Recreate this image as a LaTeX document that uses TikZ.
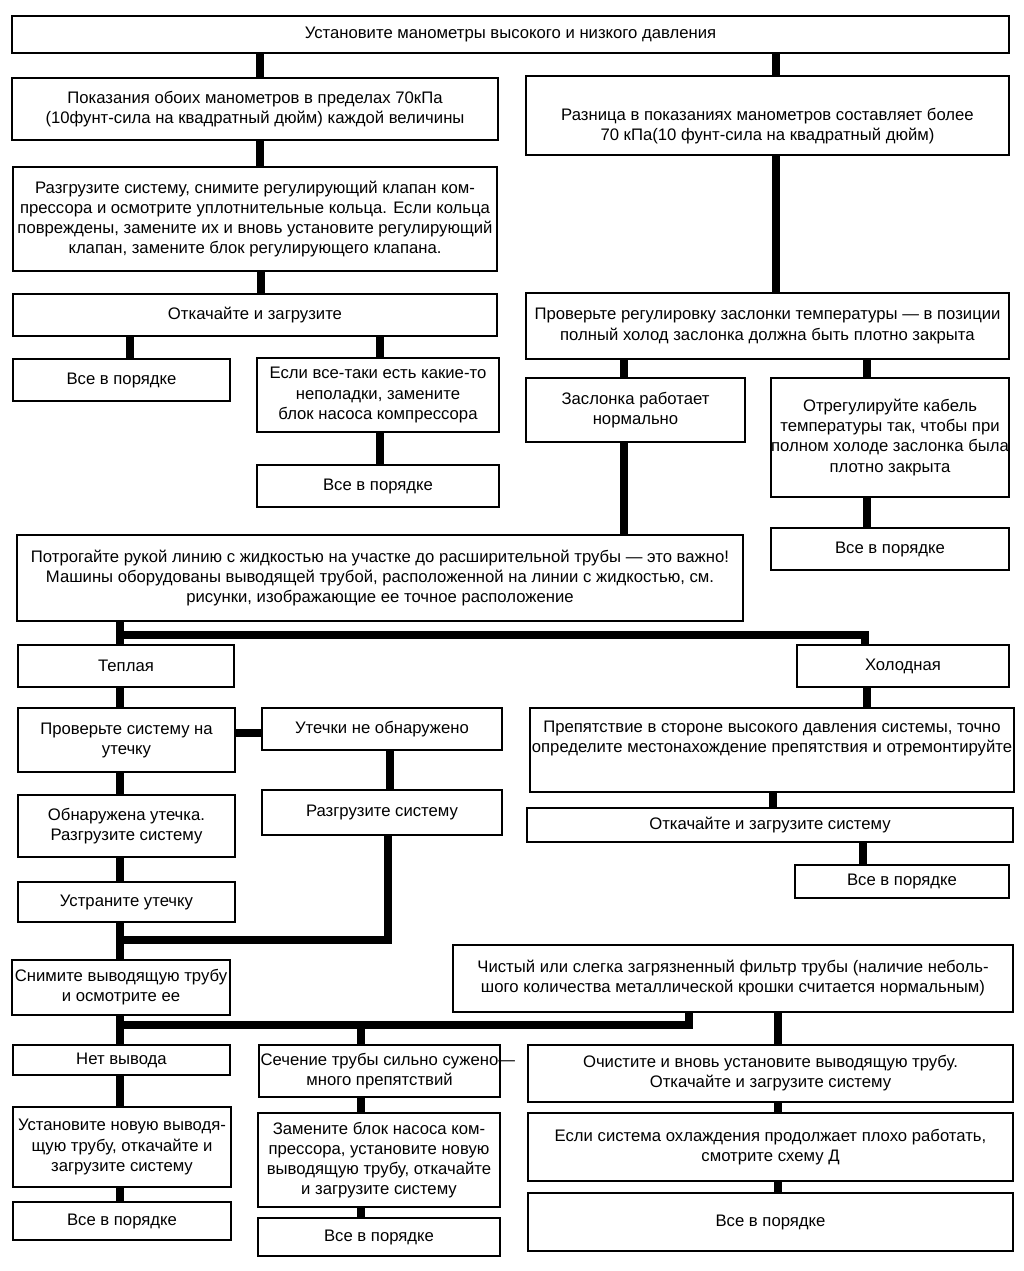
\documentclass[tikz,border=0pt]{standalone}
\usepackage{fontspec}
\setmainfont{Liberation Sans}
\newcommand\bx[6]{\node[box, minimum width={(#4-#2)*0.02cm}, minimum height={(#5-#3)*0.02cm}] (#1) at ({(#2+#4)/2},{(#3+#5)/2}) {#6};}
\begin{document}
\begin{tikzpicture}[x=0.02cm,y=-0.02cm,
  box/.style={draw, line width=1.5pt, inner sep=0pt, align=center, font=\fontsize{9.5}{11.4}\selectfont},
  conn/.style={line width=4pt, line join=miter}]
\useasboundingbox (0,0) rectangle (1024,1271);
% boxes
\bx{top}{12}{16}{1009}{53}{Установите манометры высокого и низкого давления}
\bx{A}{12}{78}{498}{140}{Показания обоих манометров в пределах 70кПа\\(10фунт-сила на квадратный дюйм) каждой величины}
\bx{B}{526}{76}{1009}{155}{\mbox{}\\[8pt]Разница в показаниях манометров составляет более\\70 кПа(10 фунт-сила на квадратный дюйм)}
\bx{C}{13}{167}{497}{271}{Разгрузите систему, снимите регулирующий клапан ком-\\прессора и осмотрите уплотнительные кольца. Если кольца\\повреждены, замените их и вновь установите регулирующий\\клапан, замените блок регулирующего клапана.}
\bx{D}{13}{294}{497}{336}{Откачайте и загрузите}
\bx{E}{13}{359}{230}{401}{Все в порядке}
\bx{F}{257}{358}{499}{432}{Если все-таки есть какие-то\\неполадки, замените\\блок насоса компрессора}
\bx{G}{257}{465}{499}{507}{Все в порядке}
\bx{H}{526}{293}{1009}{359}{Проверьте регулировку заслонки температуры — в позиции\\полный холод заслонка должна быть плотно закрыта}
\bx{I}{526}{378}{745}{442}{Заслонка работает\\нормально}
\bx{J}{771}{378}{1009}{497}{Отрегулируйте кабель\\температуры так, чтобы при\\полном холоде заслонка была\\плотно закрыта}
\bx{K}{771}{528}{1009}{570}{Все в порядке}
\bx{L}{17}{535}{743}{621}{Потрогайте рукой линию с жидкостью на участке до расширительной трубы — это важно!\\Машины оборудованы выводящей трубой, расположенной на линии с жидкостью, см.\\рисунки, изображающие ее точное расположение}
\bx{M}{18}{645}{234}{687}{Теплая}
\bx{N}{797}{645}{1009}{687}{Холодная}
\bx{O}{18}{708}{235}{772}{Проверьте систему на\\утечку}
\bx{P}{262}{708}{502}{750}{Утечки не обнаружено}
\bx{Q}{18}{795}{235}{857}{Обнаружена утечка.\\Разгрузите систему}
\bx{R}{262}{790}{502}{835}{Разгрузите систему}
\bx{S}{18}{882}{235}{922}{Устраните утечку}
\bx{T}{530}{708}{1014}{792}{Препятствие в стороне высокого давления системы, точно\\определите местонахождение препятствия и отремонтируйте\\[4pt]\mbox{}}
\bx{U}{527}{808}{1013}{842}{Откачайте и загрузите систему}
\bx{V}{795}{865}{1009}{898}{Все в порядке}
\bx{W}{12}{960}{230}{1015}{Снимите выводящую трубу\\и осмотрите ее}
\bx{X}{453}{945}{1013}{1012}{Чистый или слегка загрязненный фильтр трубы (наличие неболь-\\шого количества металлической крошки считается нормальным)}
\bx{Y}{13}{1045}{230}{1075}{Нет вывода}
\bx{Z}{259}{1045}{500}{1097}{Сечение трубы сильно сужено\rlap{—}\\много препятствий}
\bx{AA}{528}{1045}{1013}{1102}{Очистите и вновь установите выводящую трубу.\\Откачайте и загрузите систему}
\bx{AB}{13}{1107}{231}{1187}{Установите новую выводя-\\щую трубу, откачайте и\\загрузите систему}
\bx{AC}{258}{1113}{500}{1207}{Замените блок насоса ком-\\прессора, установите новую\\выводящую трубу, откачайте\\и загрузите систему}
\bx{AD}{13}{1202}{231}{1240}{Все в порядке}
\bx{AE}{258}{1218}{500}{1256}{Все в порядке}
\bx{AF}{528}{1113}{1013}{1181}{Если система охлаждения продолжает плохо работать,\\смотрите схему Д}
\bx{AG}{528}{1193}{1013}{1251}{Все в порядке}
% junction points
\coordinate (jL) at (120,635);
\coordinate (jR) at (120,940);
\coordinate (jW) at (120,1025);
\coordinate (jZ) at (361,1025);
% connectors
\draw[conn] (top.south -| 260,0) -- (A.north -| 260,0);
\draw[conn] (top.south -| 776,0) -- (B.north -| 776,0);
\draw[conn] (A.south -| 260,0) -- (C.north -| 260,0);
\draw[conn] (C.south -| 261,0) -- (D.north -| 261,0);
\draw[conn] (D.south -| 130,0) -- (E.north -| 130,0);
\draw[conn] (D.south -| 380,0) -- (F.north -| 380,0);
\draw[conn] (F.south -| 380,0) -- (G.north -| 380,0);
\draw[conn] (B.south -| 776,0) -- (H.north -| 776,0);
\draw[conn] (H.south -| 624,0) -- (I.north -| 624,0);
\draw[conn] (H.south -| 867,0) -- (J.north -| 867,0);
\draw[conn] (J.south -| 867,0) -- (K.north -| 867,0);
\draw[conn] (I.south -| 624,0) -- (L.north -| 624,0);
\draw[conn] (L.south -| 120,0) -- (M.north -| 120,0);
\draw[conn] (jL) -| (N.north -| 865,0);
\draw[conn] (N.south -| 867,0) -- (T.north -| 867,0);
\draw[conn] (T.south -| 773,0) -- (U.north -| 773,0);
\draw[conn] (U.south -| 863,0) -- (V.north -| 863,0);
\draw[conn] (M.south -| 120,0) -- (O.north -| 120,0);
\draw[conn] (O.east |- 0,733) -- (P.west |- 0,733);
\draw[conn] (O.south -| 120,0) -- (Q.north -| 120,0);
\draw[conn] (P.south -| 390,0) -- (R.north -| 390,0);
\draw[conn] (Q.south -| 120,0) -- (S.north -| 120,0);
\draw[conn] (R.south -| 388,0) |- (jR);
\draw[conn] (S.south -| 120,0) -- (W.north -| 120,0);
\draw[conn] (W.south -| 120,0) -- (Y.north -| 120,0);
\draw[conn] (jW) -| (X.south -| 689,0);
\draw[conn] (jZ) -- (Z.north -| 361,0);
\draw[conn] (X.south -| 778,0) -- (AA.north -| 778,0);
\draw[conn] (Y.south -| 120,0) -- (AB.north -| 120,0);
\draw[conn] (Z.south -| 361,0) -- (AC.north -| 361,0);
\draw[conn] (AA.south -| 778,0) -- (AF.north -| 778,0);
\draw[conn] (AB.south -| 120,0) -- (AD.north -| 120,0);
\draw[conn] (AC.south -| 361,0) -- (AE.north -| 361,0);
\draw[conn] (AF.south -| 778,0) -- (AG.north -| 778,0);
\end{tikzpicture}
\end{document}
